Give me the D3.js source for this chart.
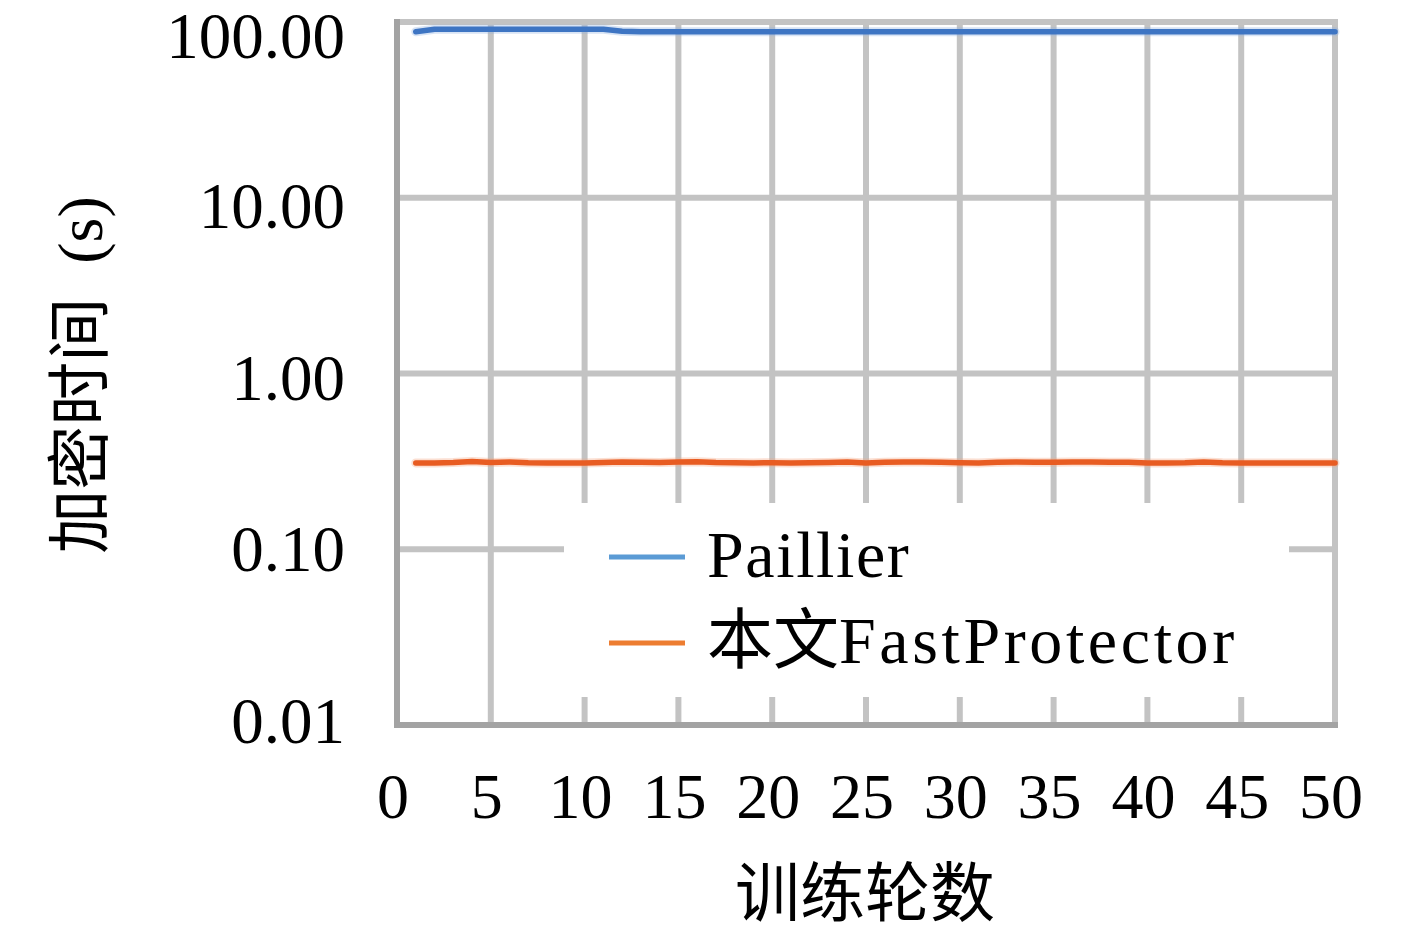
<!DOCTYPE html>
<html>
<head>
<meta charset="utf-8">
<script src="https://cdn.jsdelivr.net/npm/d3@7"></script>
<style>
  body { margin: 0; background: #fff; }
  text { font-family: "Liberation Serif", "Noto Sans CJK SC", serif; fill: #000; }
</style>
</head>
<body>
<div id="chart"></div>
<script>
// training rounds (x categories)
const rounds = [1, 2, 3, 4, 5, 6, 7, 8, 9, 10,
  11, 12, 13, 14, 15, 16, 17, 18, 19, 20,
  21, 22, 23, 24, 25, 26, 27, 28, 29, 30,
  31, 32, 33, 34, 35, 36, 37, 38, 39, 40,
  41, 42, 43, 44, 45, 46, 47, 48, 49, 50];

// encryption time in seconds
const paillier = [88, 91, 91, 91, 91, 91, 91, 91, 91, 91,
  91, 88.5, 88, 88, 88, 88, 88, 88, 88, 88,
  88, 88, 88, 88, 88, 88, 88, 88, 88, 88,
  88, 88, 88, 88, 88, 88, 88, 88, 88, 88,
  88, 88, 88, 88, 88, 88, 88, 88, 88, 88];

const fastProtector = [0.310, 0.310, 0.312, 0.316, 0.312, 0.314, 0.311, 0.310, 0.310, 0.310,
  0.312, 0.314, 0.313, 0.312, 0.314, 0.315, 0.312, 0.311, 0.310, 0.311,
  0.310, 0.311, 0.312, 0.314, 0.310, 0.313, 0.314, 0.314, 0.313, 0.311,
  0.310, 0.313, 0.314, 0.313, 0.313, 0.314, 0.314, 0.313, 0.313, 0.310,
  0.310, 0.311, 0.314, 0.311, 0.310, 0.310, 0.310, 0.310, 0.310, 0.310];

const yTicks = [100, 10, 1, 0.1, 0.01];
const yTickLabels = ["100.00", "10.00", "1.00", "0.10", "0.01"];
const xTicks = [0, 5, 10, 15, 20, 25, 30, 35, 40, 45, 50];

const W = 1417, H = 935;
const plot = { left: 397, right: 1335, top: 22, bottom: 725 };

const svg = d3.select("#chart").append("svg")
  .attr("width", W).attr("height", H);

const x = d3.scaleLinear().domain([0, 50]).range([plot.left, plot.right]);
const y = d3.scaleLog().domain([0.01, 100]).range([plot.bottom, plot.top]);

// grid
const grid = svg.append("g").attr("stroke", "#c3c3c3").attr("stroke-width", 6);
grid.selectAll(".hg").data(yTicks.filter(d => d > 0.01)).enter().append("line")
  .attr("x1", plot.left).attr("x2", plot.right + 3)
  .attr("y1", d => y(d)).attr("y2", d => y(d));
grid.selectAll(".vg").data(xTicks.filter(d => d > 0)).enter().append("line")
  .attr("x1", d => x(d)).attr("x2", d => x(d))
  .attr("y1", plot.top - 3).attr("y2", plot.bottom);

// axes
const axisColor = "#a3a3a3";
svg.append("line").attr("x1", plot.left).attr("x2", plot.left)
  .attr("y1", plot.top - 3).attr("y2", plot.bottom + 3)
  .attr("stroke", axisColor).attr("stroke-width", 6);
svg.append("line").attr("x1", plot.left - 3).attr("x2", plot.right + 3)
  .attr("y1", plot.bottom).attr("y2", plot.bottom)
  .attr("stroke", axisColor).attr("stroke-width", 6);

// tick labels
svg.append("g").selectAll("text").data(yTicks).enter().append("text")
  .attr("x", 345)
  .attr("y", (d, i) => y(d) + (i === 0 ? 14 : 12) - 16 * i / 4 + 22)
  .attr("text-anchor", "end")
  .attr("font-size", 65)
  .text((d, i) => yTickLabels[i]);

svg.append("g").selectAll("text").data(xTicks).enter().append("text")
  .attr("x", d => x(d) - 4)
  .attr("y", 818)
  .attr("text-anchor", "middle")
  .attr("font-size", 64)
  .text(d => d);

// axis titles
const yTitle = svg.append("text")
  .attr("transform", "translate(80,375) rotate(-90)")
  .attr("text-anchor", "middle")
  .attr("dominant-baseline", "central")
  .attr("font-size", 64);
yTitle.append("tspan").text("加密时间");
yTitle.append("tspan").attr("dx", 34).text("(s)");

svg.append("text")
  .attr("x", 865).attr("y", 894)
  .attr("text-anchor", "middle")
  .attr("dominant-baseline", "central")
  .attr("font-size", 65)
  .text("训练轮数");

// legend box
const legend = { x: 564, y: 503, w: 725, h: 194 };
svg.append("rect")
  .attr("x", legend.x).attr("y", legend.y)
  .attr("width", legend.w).attr("height", legend.h)
  .attr("fill", "#fff");

const legendColors = ["#5b9bd5", "#ed7d31"];
const legendRows = [557, 643];
const lg = svg.append("g");
legendRows.forEach((ly, i) => {
  lg.append("line")
    .attr("x1", 609).attr("x2", 685)
    .attr("y1", ly).attr("y2", ly)
    .attr("stroke", legendColors[i]).attr("stroke-width", 5);
});
lg.append("text")
  .attr("x", 707).attr("y", legendRows[0] + 20)
  .attr("font-size", 66)
  .attr("letter-spacing", 1.6)
  .text("Paillier");
const lt = lg.append("text")
  .attr("x", 707).attr("y", legendRows[1] + 20)
  .attr("font-size", 66);
lt.append("tspan").text("本文");
lt.append("tspan").attr("letter-spacing", 3.6).text("FastProtector");

// lines
const line = vals => d3.line()
  .x((d, i) => x(rounds[i]))
  .y(d => y(d))(vals);

const series = [
  { vals: paillier, color: "#3e75c3", halo: "#8fb3e3" },
  { vals: fastProtector, color: "#e85c22", halo: "#f3a47e" }
];
series.forEach(s => {
  svg.append("path").attr("d", line(s.vals))
    .attr("fill", "none").attr("stroke", s.halo)
    .attr("stroke-width", 9).attr("stroke-opacity", 0.35)
    .attr("stroke-linecap", "round").attr("stroke-linejoin", "round");
  svg.append("path").attr("d", line(s.vals))
    .attr("fill", "none").attr("stroke", s.color)
    .attr("stroke-width", 5.5)
    .attr("stroke-linecap", "round").attr("stroke-linejoin", "round");
});
</script>
</body>
</html>
